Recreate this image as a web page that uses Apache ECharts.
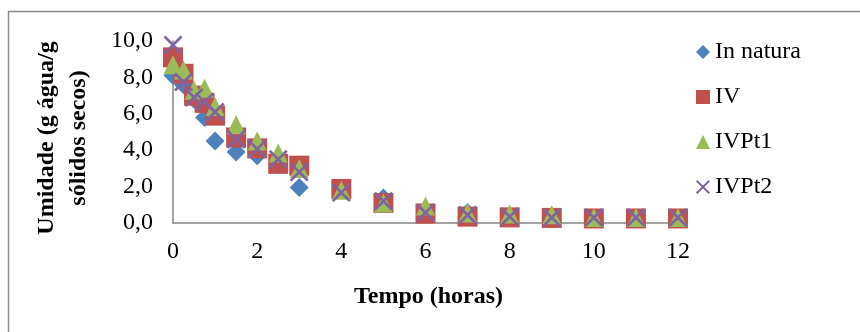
<!DOCTYPE html>
<html>
<head>
<meta charset="utf-8">
<script src="https://cdn.jsdelivr.net/npm/echarts@6/dist/echarts.min.js"></script>
<style>html,body{margin:0;padding:0;background:#fff}#c{width:860px;height:332px}</style>
</head>
<body>
<div id="c"></div>
<script>
var tempo = [0, 0.25, 0.5, 0.75, 1, 1.5, 2, 2.5, 3, 4, 5, 6, 7, 8, 9, 10, 11, 12];
var inNatura = [8.1, 7.6, 6.8, 5.8, 4.5, 3.9, 3.7, 3.2, 1.95, 1.9, 1.37, 0.6, 0.57, 0.3, 0.25, 0.25, 0.25, 0.25];
var iv = [9.1, 8.2, 7.0, 6.6, 5.9, 4.7, 4.1, 3.25, 3.15, 1.87, 1.1, 0.52, 0.35, 0.31, 0.28, 0.25, 0.25, 0.25];
var ivpt1 = [8.7, 8.4, 7.3, 7.4, 6.4, 5.4, 4.5, 3.85, 3.0, 1.8, 1.1, 0.94, 0.55, 0.5, 0.45, 0.3, 0.3, 0.3];
var ivpt2 = [9.78, 7.75, 6.9, 6.65, 6.1, 4.6, 4.07, 3.5, 2.8, 1.67, 1.2, 0.57, 0.44, 0.35, 0.3, 0.3, 0.3, 0.3];
var seriesNames = ['In natura', 'IV', 'IVPt1', 'IVPt2'];
var xTicks = [0, 2, 4, 6, 8, 10, 12];
var yTicks = [0, 2, 4, 6, 8, 10];

function pairs(ys) { return tempo.map(function (t, i) { return [t, ys[i]]; }); }
var font = 'Liberation Serif';
var fs = 24;
var xPath = 'path://M0,1L1,0L5,4L9,0L10,1L6,5L10,9L9,10L5,6L1,10L0,9L4,5Z';

var chart = echarts.init(document.getElementById('c'), null, {renderer: 'canvas'});
chart.setOption({
  animation: false,
  backgroundColor: '#fff',
  textStyle: {fontFamily: font},
  graphic: [{
    type: 'rect', shape: {x: 8.5, y: 11.5, width: 1000, height: 1000},
    style: {fill: 'none', stroke: '#8c8c8c', lineWidth: 1.5}, silent: true, z: -10
  }],
  grid: {left: 173, top: 41, right: 182, bottom: 109, containLabel: false},
  legend: {
    orient: 'vertical', left: 691, top: 35, itemGap: 21, itemWidth: 14, itemHeight: 14,
    textStyle: {fontFamily: font, fontSize: fs, color: '#000'},
    data: [
      {name: 'In natura', icon: 'diamond', itemStyle: {color: '#4F81BD'}},
      {name: 'IV', icon: 'rect', itemStyle: {color: '#C0504D'}},
      {name: 'IVPt1', icon: 'triangle', itemStyle: {color: '#9BBB59'}},
      {name: 'IVPt2', icon: xPath, itemStyle: {color: '#8064A2'}}
    ]
  },
  xAxis: {
    type: 'value', min: 0, max: 12, interval: 2,
    name: 'Tempo (horas)', nameLocation: 'middle', nameGap: 62,
    nameTextStyle: {fontFamily: font, fontSize: fs, fontWeight: 'bold', color: '#000', padding: [0, 0, 0, 6]},
    axisLine: {show: true, lineStyle: {color: '#868686', width: 1.5}},
    axisTick: {show: false}, splitLine: {show: false},
    axisLabel: {fontFamily: font, fontSize: fs, color: '#000', margin: 17,
      formatter: function (v) { return xTicks.indexOf(v) >= 0 ? String(v) : ''; }}
  },
  yAxis: {
    type: 'value', min: 0, max: 10, interval: 2,
    name: 'Umidade (g água/g\nsólidos secos)', nameLocation: 'middle', nameRotate: 90, nameGap: 78,
    nameTextStyle: {fontFamily: font, fontSize: fs, fontWeight: 'bold', color: '#000', lineHeight: 32,
      padding: [0, 12, 0, 0]},
    axisLine: {show: true, lineStyle: {color: '#868686', width: 1.5}},
    axisTick: {show: false}, splitLine: {show: false},
    axisLabel: {fontFamily: font, fontSize: fs, color: '#000', margin: 20,
      formatter: function (v) { return yTicks.indexOf(v) >= 0 ? v.toFixed(1).replace('.', ',') : ''; }}
  },
  series: [
    {name: seriesNames[0], type: 'scatter', data: pairs(inNatura), symbol: 'diamond', symbolSize: 19,
      itemStyle: {color: '#4F81BD', opacity: 1}, z: 2},
    {name: seriesNames[1], type: 'scatter', data: pairs(iv), symbol: 'rect', symbolSize: 20,
      itemStyle: {color: '#C0504D', opacity: 1}, z: 3},
    {name: seriesNames[2], type: 'scatter', data: pairs(ivpt1), symbol: 'triangle', symbolSize: 19,
      itemStyle: {color: '#9BBB59', opacity: 1}, z: 4},
    {name: seriesNames[3], type: 'scatter', data: pairs(ivpt2), symbol: xPath, symbolSize: 19,
      itemStyle: {color: '#8064A2', opacity: 1}, z: 5}
  ]
});
</script>
</body>
</html>
